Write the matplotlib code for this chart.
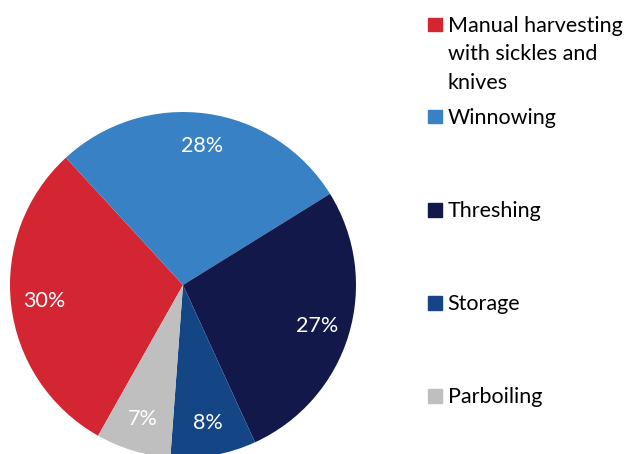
import matplotlib
matplotlib.use("Agg")
import matplotlib.pyplot as plt
from matplotlib.patches import Rectangle

categories = ["Manual harvesting\nwith sickles and\nknives", "Winnowing", "Threshing", "Storage", "Parboiling"]
values = [30, 28, 27, 8, 7]
colors = ["#D42632", "#3781C4", "#12194A", "#144686", "#BFBFBF"]

plt.rcParams['font.family'] = ['Lato', 'DejaVu Sans']

W, H = 632, 454
fig = plt.figure(figsize=(W / 100, H / 100), dpi=100)
cx, cy, R = 183, 285, 173
ax = fig.add_axes([(cx - R) / W, (H - cy - R) / H, 2 * R / W, 2 * R / H])
ax.axis('off')

wedges, texts, autotexts = ax.pie(
    values, colors=colors, startangle=240.6, counterclock=False,
    radius=1, pctdistance=0.81, autopct=lambda p: f"{p:.0f}%",
    wedgeprops=dict(linewidth=0),
    textprops=dict(color='white', fontsize=15.5))
ax.set_xlim(-1, 1)
ax.set_ylim(-1, 1)
ax.set_aspect('equal')
for w in wedges:
    w.set_clip_on(False)

# Legend drawn manually
ys = [24.5, 116.7, 210, 303, 396]
for lab, col, y in zip(categories, colors, ys):
    fig.patches.append(Rectangle((428.3 / W, (H - y - 6.7) / H), 13.4 / W, 13.4 / H,
                                 transform=fig.transFigure, color=col))
    fig.text(447.5 / W, (H - y + 9) / H, lab, ha='left', va='top',
             fontsize=15.5, color='black', linespacing=1.55)

fig.savefig("out.png", dpi=100)
